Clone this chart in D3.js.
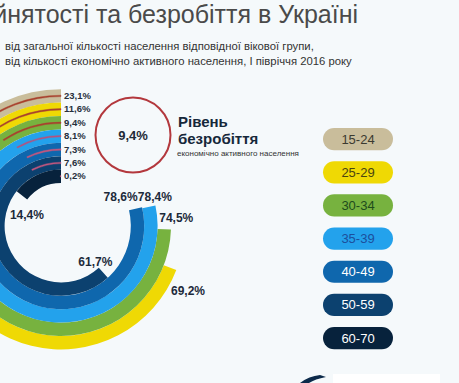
<!DOCTYPE html>
<html>
<head>
<meta charset="utf-8">
<script src="https://cdn.jsdelivr.net/npm/d3@7"></script>
<style>
  html, body { margin: 0; padding: 0; background: #f5f9fb; }
  svg { display: block; font-family: "Liberation Sans", Arial, sans-serif; }
</style>
</head>
<body>
<div id="chart"></div>
<script>
// age groups, outermost ring first
const groups = ['15-24', '25-29', '30-34', '35-39', '40-49', '50-59', '60-70'];
// employment rate, % of population of the age group
const employment = [27.3, 69.2, 74.5, 78.4, 78.6, 61.7, 14.4];
// unemployment rate, % of economically active population
const unemployment = [23.1, 11.6, 9.4, 8.1, 7.3, 7.6, 0.2];
const totalUnemployment = 9.4;

const colors = ['#c9bd9b', '#efd904', '#77b23f', '#23a2ec', '#0f67ad', '#0c416f', '#07223c'];
const legendText = ['#3b3a30', '#4a4410', '#1e4c1c', '#1c4f9c', '#ffffff', '#ffffff', '#ffffff'];
const lineColors = ['#a8412e', '#a8412e', '#a8412e', '#b8507c', '#c0577f', '#c0577f', '#c0577f'];

const width = 459, height = 383;
const cx = 61, cy = 226;

const fmt = v => String(v.toFixed(1)).replace('.', ',') + '%';

const svg = d3.select('#chart')
  .append('svg')
  .attr('width', width)
  .attr('height', height);

svg.append('rect')
  .attr('width', width)
  .attr('height', height)
  .attr('fill', '#f5f9fb');

// title, cut off on the left like the original
svg.append('text')
  .attr('x', 358)
  .attr('y', 23)
  .attr('text-anchor', 'end')
  .attr('font-size', 25)
  .attr('fill', '#4a4a4a')
  .text('Рівень зайнятості та безробіття в Україні');

svg.append('text')
  .attr('x', 5)
  .attr('y', 50)
  .attr('font-size', 11.3)
  .attr('fill', '#333')
  .text('від загальної кількості населення відповідної вікової групи,');

svg.append('text')
  .attr('x', 5)
  .attr('y', 65)
  .attr('font-size', 11.3)
  .attr('fill', '#333')
  .text('від кількості економічно активного населення, І півріччя 2016 року');

const data = groups.map((g, i) => ({
  group: g,
  emp: employment[i],
  unemp: unemployment[i],
  i: i
}));

const r = d3.scaleBand()
  .domain(groups.slice().reverse())
  .range([43, 136.8])
  .padding(0);

const angle = d3.scaleLinear()
  .domain([0, 100])
  .range([0, -2 * Math.PI]);

const rings = svg.append('g')
  .attr('transform', 'translate(' + cx + ',' + cy + ')');

const ringArc = d3.arc()
  .innerRadius(d => r(d.group))
  .outerRadius(d => r(d.group) + r.bandwidth())
  .startAngle(0)
  .endAngle(d => angle(d.emp));

rings.selectAll('.ring')
  .data(data)
  .enter().append('path')
  .attr('class', 'ring')
  .attr('d', ringArc)
  .attr('fill', d => colors[d.i]);

// thin unemployment lines inside each ring
const lineArc = d3.arc()
  .innerRadius(d => r(d.group) + r.bandwidth() / 2 - 0.7)
  .outerRadius(d => r(d.group) + r.bandwidth() / 2 + 0.7)
  .startAngle(0)
  .endAngle(d => angle(d.unemp));

rings.selectAll('.uline')
  .data(data)
  .enter().append('path')
  .attr('class', 'uline')
  .attr('d', lineArc)
  .attr('fill', d => lineColors[d.i])
  .attr('stroke', d => lineColors[d.i])
  .attr('stroke-width', 0.4);

rings.selectAll('.ulabel')
  .data(data)
  .enter().append('text')
  .attr('class', 'ulabel')
  .attr('x', 3)
  .attr('y', d => -(r(d.group) + r.bandwidth() / 2) + 3)
  .attr('font-size', 9.5)
  .attr('font-weight', 'bold')
  .attr('fill', '#26303c')
  .text(d => fmt(d.unemp));

// employment labels near the end of each ring (15-24 falls outside the picture)
const nudge = [[-20, 0], [18, 23], [12, -11], [6, -10], [-15, -12], [-8, -11], [5, 20]];

rings.selectAll('.elabel')
  .data(data.filter(d => d.i > 0))
  .enter().append('text')
  .attr('class', 'elabel')
  .attr('x', d => (r(d.group) + r.bandwidth() / 2) * Math.sin(angle(d.emp)) + nudge[d.i][0])
  .attr('y', d => -(r(d.group) + r.bandwidth() / 2) * Math.cos(angle(d.emp)) + nudge[d.i][1] + 4)
  .attr('text-anchor', 'middle')
  .attr('font-size', 12)
  .attr('font-weight', 'bold')
  .attr('fill', '#1c2a3a')
  .text(d => fmt(d.emp));

// overall unemployment circle
svg.append('circle')
  .attr('cx', 133)
  .attr('cy', 135)
  .attr('r', 37.5)
  .attr('fill', 'none')
  .attr('stroke', '#b3383d')
  .attr('stroke-width', 2);

svg.append('text')
  .attr('x', 133)
  .attr('y', 140)
  .attr('text-anchor', 'middle')
  .attr('font-size', 13)
  .attr('font-weight', 'bold')
  .attr('fill', '#1f2a36')
  .text(fmt(totalUnemployment));

svg.append('text')
  .attr('x', 178)
  .attr('y', 127)
  .attr('font-size', 15)
  .attr('font-weight', 'bold')
  .attr('fill', '#16283a')
  .text('Рівень');

svg.append('text')
  .attr('x', 178)
  .attr('y', 144)
  .attr('font-size', 15)
  .attr('font-weight', 'bold')
  .attr('fill', '#16283a')
  .text('безробіття');

svg.append('text')
  .attr('x', 177)
  .attr('y', 156)
  .attr('font-size', 8)
  .attr('fill', '#333')
  .text('економічно активного населення');

// legend pills
const ly = d3.scaleBand()
  .domain(groups)
  .range([128, 128 + 7 * 31.6])
  .paddingInner(0.33)
  .paddingOuter(0);

const legend = svg.selectAll('.legend')
  .data(data)
  .enter().append('g')
  .attr('class', 'legend')
  .attr('transform', d => 'translate(323,' + ly(d.group) + ')');

legend.append('rect')
  .attr('width', 70)
  .attr('height', ly.bandwidth())
  .attr('rx', ly.bandwidth() / 2)
  .attr('fill', d => colors[d.i]);

legend.append('text')
  .attr('x', 35)
  .attr('y', ly.bandwidth() / 2 + 4.5)
  .attr('text-anchor', 'middle')
  .attr('font-size', 13)
  .attr('fill', d => legendText[d.i])
  .text(d => d.group);

// bit of the next panel peeking in at the bottom
svg.append('rect')
  .attr('x', 333)
  .attr('y', 374)
  .attr('width', 107)
  .attr('height', 9)
  .attr('fill', '#ffffff');

svg.append('path')
  .attr('d', 'M300,383 Q309,376 320,375 L326,377 Q315,379 309,383 Z')
  .attr('fill', '#0c2a4a');
</script>
</body>
</html>
